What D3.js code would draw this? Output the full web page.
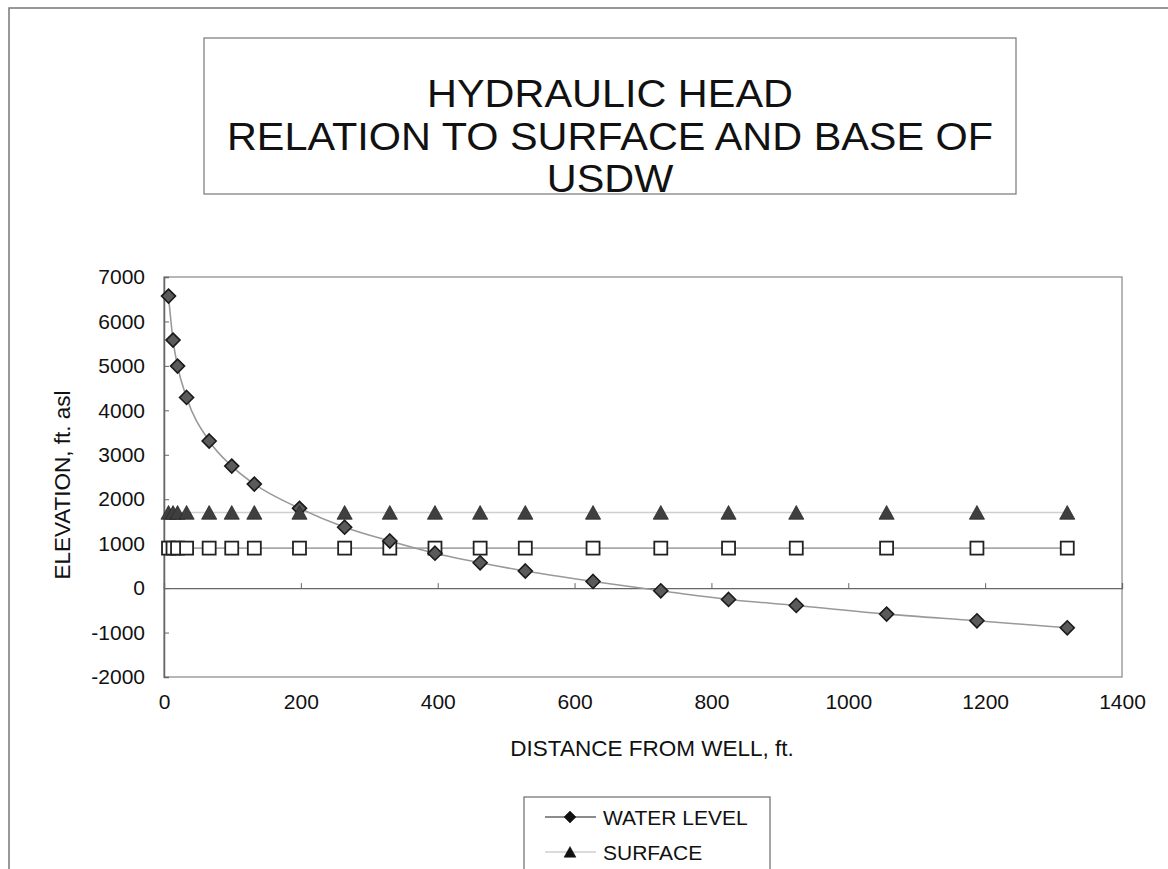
<!DOCTYPE html>
<html>
<head>
<meta charset="utf-8">
<script src="https://cdn.jsdelivr.net/npm/d3@7"></script>
<style>
  html, body { margin: 0; padding: 0; background: #fff; }
  svg { display: block; font-family: "Liberation Sans", Arial, sans-serif; }
</style>
</head>
<body>
<svg id="chart" width="1168" height="869"></svg>
<script>
// ---- data ----
const distance = [6.6, 13.2, 19.8, 33, 66, 99, 132, 198, 264, 330, 396, 462, 528, 627, 726, 825, 924, 1056, 1188, 1320];
const waterLevel = [6570, 5580, 4995, 4290, 3310, 2745, 2340, 1795, 1370, 1060, 785, 570, 385, 150, -60, -255, -390, -585, -735, -893];
const surface = distance.map(() => 1700);
const baseUSDW = distance.map(() => 900);
const xTicks = [0, 200, 400, 600, 800, 1000, 1200, 1400];
const yTicks = [-2000, -1000, 0, 1000, 2000, 3000, 4000, 5000, 6000, 7000];
const titleLines = ["HYDRAULIC HEAD", "RELATION TO SURFACE AND BASE OF", "USDW"];
const legendNames = ["WATER LEVEL", "SURFACE"];

const svg = d3.select("#chart");
const plain = d => String(d).replace("\u2212", "-");

// outer chart frame
svg.append("path").attr("d", "M9,869 L9,8 L1168,8").attr("fill", "none").attr("stroke", "#777").attr("stroke-width", 1.5);

// title box
svg.append("rect").attr("x", 204).attr("y", 38).attr("width", 812).attr("height", 156)
  .attr("fill", "#fff").attr("stroke", "#777").attr("stroke-width", 1.2);
svg.append("g").attr("transform", "translate(610,0) scale(1.09,1)")
  .selectAll("text").data(titleLines).join("text")
  .attr("x", 0).attr("y", (d, i) => 107 + i * 42.6)
  .attr("text-anchor", "middle").attr("font-size", 38).attr("fill", "#111")
  .text(d => d);

// scales
const x = d3.scaleLinear().domain([0, 1400]).range([164, 1122]);
const y = d3.scaleLinear().domain([-2000, 7000]).range([677, 277]);

// plot border
svg.append("rect").attr("x", x(0)).attr("y", y(7000)).attr("width", x(1400) - x(0)).attr("height", y(-2000) - y(7000))
  .attr("fill", "none").attr("stroke", "#888").attr("stroke-width", 1.2);

// y axis (ticks inside)
const yAxis = d3.axisLeft(y).tickValues(yTicks).tickSize(-5).tickPadding(19).tickFormat(plain);
const gy = svg.append("g").attr("transform", `translate(${x(0)},0)`).call(yAxis);
gy.select(".domain").attr("stroke", "#666").attr("stroke-width", 1.5);
gy.selectAll(".tick line").attr("stroke", "#666");
gy.selectAll(".tick text").attr("font-size", 21).attr("fill", "#111").attr("font-family", "Liberation Sans, Arial, sans-serif");

// x axis line at y=0 with ticks pointing up
const xAxisLine = d3.axisTop(x).tickValues(xTicks).tickSize(5).tickFormat("");
const gx = svg.append("g").attr("transform", `translate(0,${y(0)})`).call(xAxisLine);
gx.select(".domain").attr("stroke", "#666").attr("stroke-width", 1.3);
gx.selectAll(".tick line").attr("stroke", "#666");

// x tick labels low
const xLabels = d3.axisBottom(x).tickValues(xTicks).tickSize(0).tickPadding(17).tickFormat(plain);
const gxl = svg.append("g").attr("transform", `translate(0,${y(-2000)})`).call(xLabels);
gxl.select(".domain").remove();
gxl.selectAll(".tick text").attr("font-size", 21).attr("fill", "#111").attr("font-family", "Liberation Sans, Arial, sans-serif");

// axis titles
svg.append("text").attr("x", 652).attr("y", 756).attr("text-anchor", "middle")
  .attr("font-size", 22.5).attr("fill", "#111").text("DISTANCE FROM WELL, ft.");
svg.append("text").attr("transform", "translate(70,485) rotate(-90)").attr("text-anchor", "middle")
  .attr("font-size", 22.5).attr("fill", "#111").text("ELEVATION, ft. asl");

// lines
const line = d3.line().x(d => x(d[0])).y(d => y(d[1]));
const wl = distance.map((d, i) => [d, waterLevel[i]]);
const sf = distance.map((d, i) => [d, surface[i]]);
const bs = distance.map((d, i) => [d, baseUSDW[i]]);
svg.append("path").datum(sf).attr("d", line).attr("fill", "none").attr("stroke", "#cfcfcf").attr("stroke-width", 1.6);
svg.append("path").datum(bs).attr("d", line).attr("fill", "none").attr("stroke", "#a8a8a8").attr("stroke-width", 1.6);
svg.append("path").datum(wl).attr("d", d3.line().curve(d3.curveMonotoneX).x(d => x(d[0])).y(d => y(d[1])))
  .attr("fill", "none").attr("stroke", "#999").attr("stroke-width", 1.6);

// marker shapes
const diamondPath = r => `M0,${-r} L${r},0 L0,${r} L${-r},0 Z`;
const trianglePath = r => `M0,${-r} L${r * 1.08},${r * 0.95} L${-r * 1.08},${r * 0.95} Z`;

// base squares
svg.append("g").selectAll("rect").data(bs).join("rect")
  .attr("x", d => x(d[0]) - 6.5).attr("y", d => y(d[1]) - 6.5).attr("width", 13).attr("height", 13)
  .attr("fill", "#fff").attr("stroke", "#222").attr("stroke-width", 1.8);
// water level diamonds
svg.append("g").selectAll("path").data(wl).join("path")
  .attr("transform", d => `translate(${x(d[0])},${y(d[1])})`).attr("d", diamondPath(7))
  .attr("fill", "#5a5a5a").attr("stroke", "#1a1a1a").attr("stroke-width", 1.6);
// surface triangles
svg.append("g").selectAll("path").data(sf).join("path")
  .attr("transform", d => `translate(${x(d[0])},${y(d[1])})`).attr("d", trianglePath(7))
  .attr("fill", "#3f3f3f").attr("stroke", "#2a2a2a").attr("stroke-width", 0.8);

// legend
const lg = svg.append("g");
lg.append("rect").attr("x", 524).attr("y", 797).attr("width", 246).attr("height", 110)
  .attr("fill", "#fff").attr("stroke", "#777").attr("stroke-width", 1.3);
const legendStroke = ["#666", "#cfcfcf"];
const items = lg.selectAll("g.item").data(legendNames).join("g").attr("class", "item")
  .attr("transform", (d, i) => `translate(0,${817 + i * 35})`);
items.append("line").attr("x1", 545).attr("x2", 596).attr("y1", 0).attr("y2", 0)
  .attr("stroke", (d, i) => legendStroke[i]).attr("stroke-width", 1.5);
items.append("path").attr("transform", "translate(570,0)")
  .attr("d", (d, i) => i === 0 ? diamondPath(6) : trianglePath(5.5))
  .attr("fill", "#111").attr("stroke", "#111").attr("stroke-width", 0.5);
items.append("text").attr("x", 603).attr("y", 7.5).attr("font-size", 21).attr("fill", "#111").text(d => d);
</script>
</body>
</html>
